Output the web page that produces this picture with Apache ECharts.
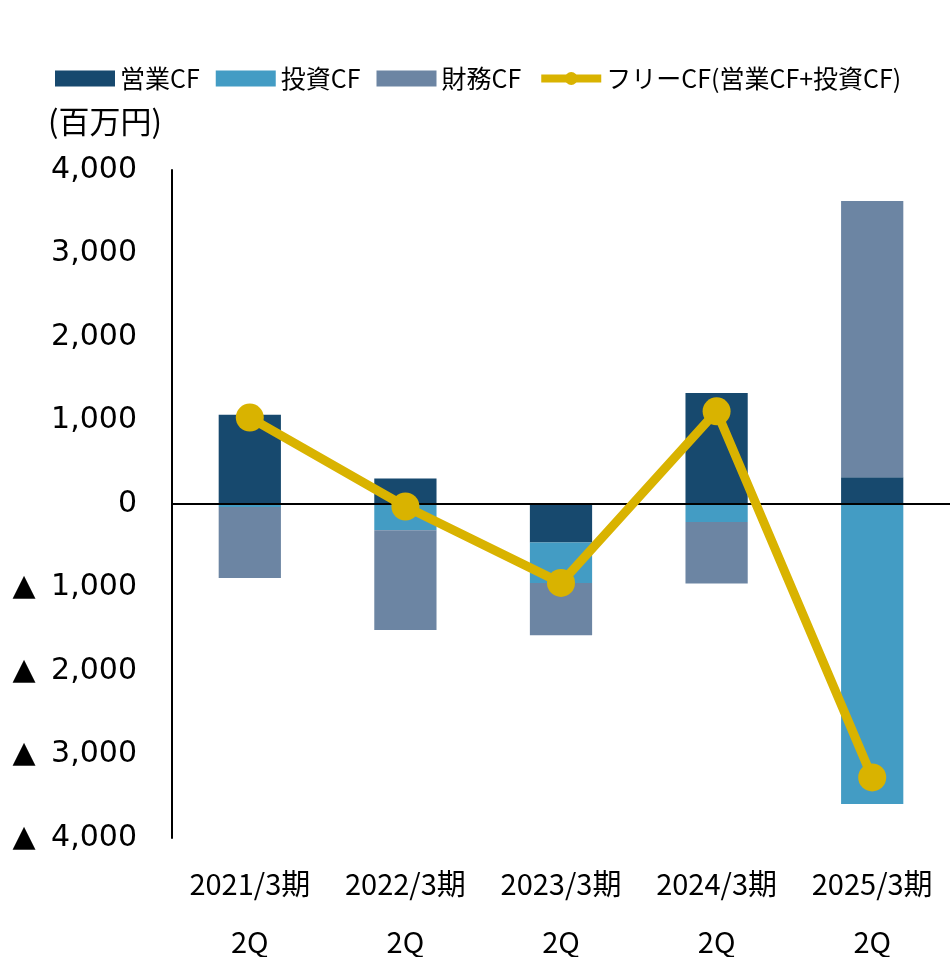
<!DOCTYPE html>
<html lang="ja">
<head>
    <meta charset="UTF-8">
    <title>キャッシュフロー</title>
    <script src="https://cdn.jsdelivr.net/npm/echarts@6/dist/echarts.min.js"></script>
    <style>
        html, body { margin: 0; padding: 0; background: #fff; }
        #chart { width: 950px; height: 957px; }
    </style>
</head>
<body>
<div id="chart"></div>

<script>
    // 期（カテゴリ）
    var periods = ['2021/3期\n2Q', '2022/3期\n2Q', '2023/3期\n2Q', '2024/3期\n2Q', '2025/3期\n2Q'];
    // 単位: 百万円
    var eigyoCF = [1070, 305, -460, 1330, 319];
    var toushiCF = [-35, -315, -485, -216, -3593];
    var zaimuCF = [-850, -1195, -626, -736, 3311];
    var freeCF = [1035, -30, -945, 1110, -3275];
    var yTicks = { min: -4000, max: 4000, step: 1000 };

    var jpFont = '"Noto Sans CJK JP", "Noto Sans", sans-serif';

    function fmt(v) {
        var s = String(Math.abs(v)).replace(/\B(?=(\d{3})+(?!\d))/g, ',');
        return v < 0 ? '▲\u2009 ' + s : s;
    }

    var myChart = echarts.init(document.getElementById('chart'));

    var option = {
        animation: false,
        title: {
            text: '(百万円)',
            left: 43,
            top: 101,
            textStyle: { fontFamily: jpFont, fontSize: 31, fontWeight: 'normal', color: '#000' }
        },
        legend: {
            left: 50,
            top: 61,
            itemWidth: 60,
            itemHeight: 16,
            itemGap: 16,
            textStyle: { fontFamily: jpFont, fontSize: 25, color: '#000' },
            data: [
                { name: '営業CF', icon: 'rect' },
                { name: '投資CF', icon: 'rect' },
                { name: '財務CF', icon: 'rect' },
                { name: 'フリーCF(営業CF+投資CF)', lineStyle: { width: 8 } }
            ]
        },
        grid: {
            left: 172,
            right: 0,
            top: 170,
            bottom: 119,
            outerBoundsMode: 'none'
        },
        xAxis: {
            type: 'category',
            data: periods,
            axisLine: { show: false, onZero: false },
            axisTick: { show: false },
            axisLabel: {
                interval: 0,
                margin: 17,
                fontFamily: jpFont,
                fontSize: 29,
                lineHeight: 58,
                color: '#000'
            }
        },
        yAxis: {
            type: 'value',
            min: yTicks.min,
            max: yTicks.max,
            interval: yTicks.step,
            splitLine: { show: false },
            axisTick: { show: false },
            axisLine: { show: true, lineStyle: { color: '#000', width: 2 } },
            axisLabel: {
                margin: 35,
                fontFamily: '"DejaVu Sans", Verdana, sans-serif',
                fontSize: 30,
                color: '#000',
                padding: [0, 0, 10, 0],
                formatter: fmt
            }
        },
        series: [
            {
                name: '営業CF',
                type: 'bar',
                stack: 'cf',
                barWidth: '40%',
                itemStyle: { color: '#17496E' },
                data: eigyoCF,
                markLine: {
                    silent: true,
                    symbol: 'none',
                    label: { show: false },
                    lineStyle: { color: '#000', width: 2, type: 'solid' },
                    data: [{ yAxis: 0 }]
                },
                z: 2
            },
            {
                name: '投資CF',
                type: 'bar',
                stack: 'cf',
                itemStyle: { color: '#439CC4' },
                data: toushiCF,
                z: 2
            },
            {
                name: '財務CF',
                type: 'bar',
                stack: 'cf',
                itemStyle: { color: '#6C85A3' },
                data: zaimuCF,
                z: 2
            },
            {
                name: 'フリーCF(営業CF+投資CF)',
                type: 'line',
                data: freeCF,
                symbol: 'circle',
                symbolSize: 28,
                itemStyle: { color: '#D9B300' },
                lineStyle: { color: '#D9B300', width: 9 },
                z: 5
            }
        ]
    };

    myChart.setOption(option);
</script>
</body>
</html>
